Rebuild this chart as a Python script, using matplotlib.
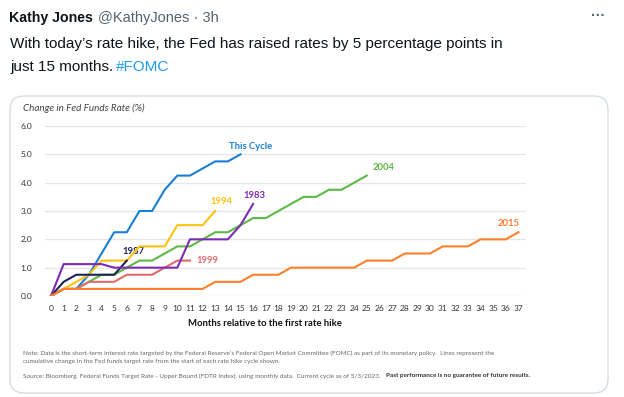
import matplotlib.pyplot as plt
from matplotlib.patches import FancyBboxPatch

# cumulative change in fed funds target rate (%), by month since first hike
months_this_cycle = list(range(16))
this_cycle = [0, 0.25, 0.25, 0.75, 1.5, 2.25, 2.25, 3.0, 3.0, 3.75, 4.25, 4.25, 4.5, 4.75, 4.75, 5.0]

months_2015 = list(range(38))
cycle_2015 = [0, 0.25, 0.25, 0.25, 0.25, 0.25, 0.25, 0.25, 0.25, 0.25, 0.25, 0.25, 0.25,
              0.5, 0.5, 0.5, 0.75, 0.75, 0.75, 1.0, 1.0, 1.0, 1.0, 1.0, 1.0,
              1.25, 1.25, 1.25, 1.5, 1.5, 1.5, 1.75, 1.75, 1.75, 2.0, 2.0, 2.0, 2.25]

months_2004 = list(range(26))
cycle_2004 = [0, 0.25, 0.25, 0.5, 0.75, 0.75, 1.0, 1.25, 1.25, 1.5, 1.75, 1.75, 2.0,
              2.25, 2.25, 2.5, 2.75, 2.75, 3.0, 3.25, 3.5, 3.5, 3.75, 3.75, 4.0, 4.25]

months_1994 = list(range(14))
cycle_1994 = [0, 0.25, 0.5, 0.75, 1.25, 1.25, 1.25, 1.75, 1.75, 1.75, 2.5, 2.5, 2.5, 3.0]

months_1999 = list(range(12))
cycle_1999 = [0, 0.25, 0.25, 0.5, 0.5, 0.5, 0.75, 0.75, 0.75, 1.0, 1.25, 1.25]

months_1987 = list(range(7))
cycle_1987 = [0, 0.5, 0.75, 0.75, 0.75, 0.75, 1.25]

months_1983 = list(range(17))
cycle_1983 = [0, 1.125, 1.125, 1.125, 1.125, 1.0, 1.0, 1.0, 1.0, 1.0, 1.0, 2.0, 2.0, 2.0, 2.0, 2.5, 3.25]

y_ticks = [0, 1, 2, 3, 4, 5, 6]
x_ticks = list(range(38))

W, H = 624, 397
fig = plt.figure(figsize=(W / 100, H / 100), dpi=100)
fig.patch.set_facecolor('white')

# background axes in pixel coords for the tweet and card
bg = fig.add_axes([0, 0, 1, 1])
bg.set_xlim(0, W)
bg.set_ylim(H, 0)
bg.axis('off')

tw = 'Liberation Sans'
bg.text(9, 18, 'Kathy Jones', fontsize=10.2, fontweight='bold', family=tw,
        color='#0f1419', va='center')
bg.text(98, 18, '@KathyJones \u00b7 3h', fontsize=10.5, family=tw, color='#536471', va='center')
bg.text(598, 16, '\u00b7\u00b7\u00b7', fontsize=10, family=tw, color='#536471', va='center', ha='center',
        fontweight='bold')
bg.text(10, 44, 'With today\u2019s rate hike, the Fed has raised rates by 5 percentage points in',
        fontsize=11, family=tw, color='#0f1419', va='center')
bg.text(10, 67, 'just 15 months.', fontsize=11, family=tw, color='#0f1419', va='center')
bg.text(116, 67, '#FOMC', fontsize=11, family=tw, color='#1d9bf0', va='center')

card = FancyBboxPatch((10, 96), 598, 297, boxstyle='round,pad=0,rounding_size=14',
                      facecolor='white', edgecolor='#d6dde3', linewidth=1.0)
bg.add_patch(card)

cf = 'Lato'
nf = 4.62
bg.text(23, 108, 'Change in Fed Funds Rate (%)', fontsize=7.1, style='italic', family=cf,
        color='#444444', va='center')
bg.text(265, 323, 'Months relative to the first rate hike', fontsize=6.8, fontweight='bold',
        family=cf, color='#111111', va='center', ha='center')
bg.text(23, 353, 'Note: Data is the short-term interest rate targeted by the Federal Reserve\u2019s '
        'Federal Open Market Committee (FOMC) as part of its monetary policy.  Lines represent the',
        fontsize=nf, family=cf, color='#666666', va='center')
bg.text(23, 361.5, 'cumulative change in the Fed funds target rate from the start of each rate hike cycle shown.',
        fontsize=nf, family=cf, color='#666666', va='center')
src = bg.text(23, 376, 'Source: Bloomberg. Federal Funds Target Rate - Upper Bound (FDTR Index), using monthly data.  '
              'Current cycle as of 5/3/2023.', fontsize=nf, family=cf, color='#666666', va='center')
fig.canvas.draw()
ext = src.get_window_extent()
bg.text(ext.x1 + 5, 376, 'Past performance is no guarantee of future results.', fontsize=nf, family=cf,
        fontweight='bold', color='#333333', va='center')

# chart axes: left 45px, right 526px, top 126px, bottom 296px
ax = fig.add_axes([45 / W, 1 - 296 / H, (526 - 45) / W, (296 - 126) / H])
ax.set_xlim(-0.475, 37.6)
ax.set_ylim(0, 6)
ax.set_facecolor('none')
for s in ax.spines.values():
    s.set_visible(False)
ax.set_yticks(y_ticks)
ax.set_yticklabels([f'{v:.1f}' for v in y_ticks])
ax.set_xticks(x_ticks)
ax.tick_params(length=0, labelsize=6.0, colors='#333333')
ax.tick_params(axis='y', pad=9)
ax.tick_params(axis='x', pad=6.5)
for lab in ax.get_xticklabels() + ax.get_yticklabels():
    lab.set_family(cf)
ax.grid(axis='y', color='#e6e6e6', linewidth=0.9)
ax.set_axisbelow(True)

lw = 1.5
ax.plot(months_this_cycle, this_cycle, color='#1a7fd4', lw=lw, zorder=2)
ax.plot(months_2004, cycle_2004, color='#5cb946', lw=lw, zorder=3)
ax.plot(months_1994, cycle_1994, color='#ffc20e', lw=lw, zorder=4)
ax.plot(months_1999, cycle_1999, color='#e06a6a', lw=lw, zorder=5)
ax.plot(months_1987, cycle_1987, color='#1e2457', lw=lw, zorder=6)
ax.plot(months_1983, cycle_1983, color='#7d2bb5', lw=lw, zorder=7)
ax.plot(months_2015, cycle_2015, color='#ff7f2a', lw=lw, zorder=8)

lab_kw = dict(fontsize=6.8, fontweight='bold', family=cf, ha='center', va='center')
ax.text(15.8, 5.29, 'This Cycle', color='#1a7fd4', **lab_kw)
ax.text(13.5, 3.35, '1994', color='#ffc20e', **lab_kw)
ax.text(16.1, 3.56, '1983', color='#7d2bb5', **lab_kw)
ax.text(26.3, 4.55, '2004', color='#5cb946', **lab_kw)
ax.text(36.2, 2.57, '2015', color='#ff7f2a', **lab_kw)
ax.text(6.5, 1.58, '1987', color='#1e2457', **lab_kw)
ax.text(12.35, 1.26, '1999', color='#e06a6a', **lab_kw)

fig.savefig('out.png', dpi=100)
